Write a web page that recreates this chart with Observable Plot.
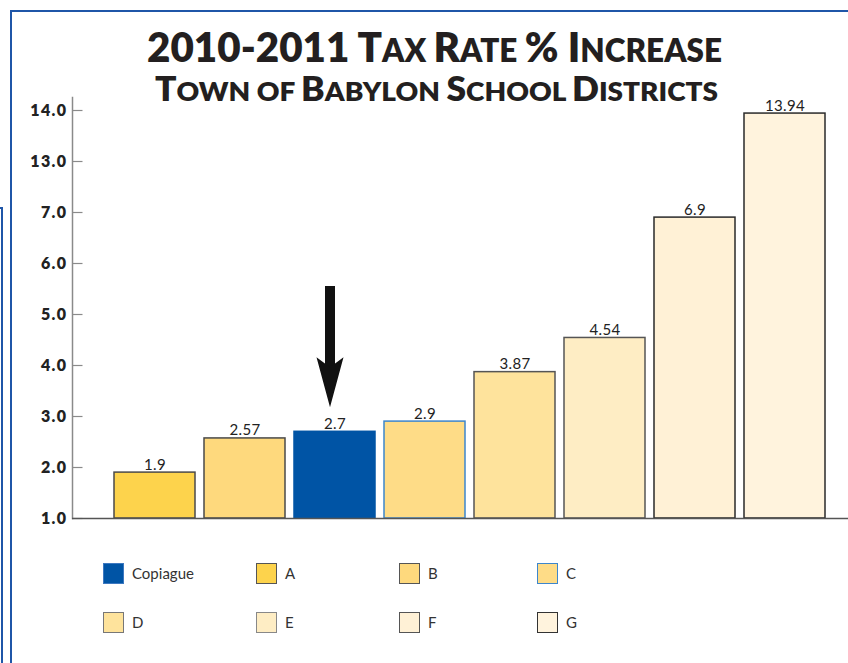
<!DOCTYPE html>
<html><head><meta charset="utf-8">
<script src="https://cdn.jsdelivr.net/npm/d3@7"></script>
<script src="https://cdn.jsdelivr.net/npm/@observablehq/plot@0.6"></script>
<style>
html,body{margin:0;padding:0;background:#fff;}
#page{position:relative;width:848px;height:663px;overflow:hidden;background:#fff;font-family:Lato,"Open Sans",sans-serif;}
.bl{position:absolute;background:#1f56a8;}
.title{position:absolute;white-space:nowrap;font-weight:800;color:#231f20;line-height:1;transform-origin:0 0;}
.sc{text-transform:uppercase;}
#chart{position:absolute;left:0;top:90px;}
.yax text{letter-spacing:1.4px;}
.vlab text{letter-spacing:0.3px;}
.leg{position:absolute;display:flex;align-items:center;font-size:15px;color:#333;height:22px;}
.sw{width:19px;height:19px;border:1.5px solid #555;margin-right:8px;}
</style></head>
<body><div id="page">
<div class="bl" style="left:10px;top:10px;width:838px;height:2px"></div>
<div class="bl" style="left:10px;top:10px;width:2px;height:653px"></div>
<div class="bl" style="left:1px;top:207px;width:2px;height:456px"></div>
<div class="bl" style="left:0px;top:207px;width:3px;height:2px"></div>
<div id="t1" class="title"></div>
<div id="t2" class="title"></div>
<div id="chart"></div>
<div id="legend"></div>
</div>
<script>
// ---- data ----
const titleText = "2010-2011 Tax Rate % Increase";
const subtitleText = "Town of Babylon School Districts";
const districts = ["A", "B", "Copiague", "C", "D", "E", "F", "G"];
const rates = [1.9, 2.57, 2.7, 2.9, 3.87, 4.54, 6.9, 13.94];
const rateLabels = ["1.9", "2.57", "2.7", "2.9", "3.87", "4.54", "6.9", "13.94"];
const fills = ["#fdd34c", "#fed97d", "#0054a5", "#fedc87", "#fee39c", "#feedc4", "#fff1d6", "#fff3dd"];
const outlines = ["#4a4a4a", "#4a4a4a", "#0054a5", "#3d86cc", "#555555", "#555555", "#2a2a2a", "#2a2a2a"];
const legendOrder = ["Copiague", "A", "B", "C", "D", "E", "F", "G"];
const legendOutlines = ["#3d78c0", "#555555", "#555555", "#3d86cc", "#777777", "#888888", "#555555", "#333333"];
const yTicks = [1, 2, 3, 4, 5, 6, 7, 13, 14];
const yBreaks = [1, 7, 13, 14];
const yBase = 1;
const arrowTarget = "Copiague";
const arrowTop = 5.55, arrowNeck = 3.8, arrowTip = 3.18;

// ---- title ----
function smallCaps(el, text, ratio) {
  el.innerHTML = "";
  let buf = "", small = null;
  const flush = () => {
    if (!buf) return;
    const s = document.createElement("span");
    s.textContent = buf;
    if (small) { s.className = "sc"; s.style.fontSize = ratio + "em"; }
    el.appendChild(s);
    buf = "";
  };
  for (const ch of text) {
    const isSmall = ch >= "a" && ch <= "z";
    if (buf && isSmall !== small && ch !== " ") flush();
    if (ch !== " ") small = isSmall;
    buf += ch;
  }
  flush();
}
const t1 = document.getElementById("t1"), t2 = document.getElementById("t2");
smallCaps(t1, titleText, 0.78);
smallCaps(t2, subtitleText, 0.79);
function place(el, size, baseline, left, right) {
  el.style.fontSize = size + "px";
  el.style.top = (baseline - 0.887 * size) + "px";
  el.style.left = left + "px";
  el.style.transform = "none";
  const w = el.getBoundingClientRect().width;
  el.style.transform = `scaleX(${(right - left) / w})`;
}
function fit() {
  place(t1, 42, 62, 147, 722);
  place(t2, 33.5, 102, 155, 718);
}
fit();
if (document.fonts) document.fonts.ready.then(fit);

// ---- chart ----
const rows = districts.map((name, i) => ({name, rate: rates[i], label: rateLabels[i], fill: fills[i], outline: outlines[i]}));
const H = 440, mTop = 7, mBottom = 12;
const step = (H - mTop - mBottom - 13) / (yTicks.length - 1);
const yRange = yBreaks.map(v => (H - mBottom) - yTicks.indexOf(v) * step);
const tickSymbol = {draw(ctx) { ctx.moveTo(0, 0); ctx.lineTo(10, 0); }};
const headSymbol = {draw(ctx) { ctx.moveTo(0, 0); ctx.lineTo(-13.5, -50); ctx.lineTo(0, -40); ctx.lineTo(13.5, -50); ctx.closePath(); }};

const chart = Plot.plot({
  width: 848, height: H,
  marginLeft: 72, marginRight: 0, marginTop: mTop, marginBottom: mBottom,
  style: {fontFamily: "Lato, 'Open Sans', sans-serif", background: "transparent", overflow: "visible"},
  x: {type: "band", domain: districts, range: [109.5, 829.5], paddingInner: 0.1, paddingOuter: 0.05, axis: null},
  y: {type: "linear", domain: yBreaks, range: yRange},
  color: {type: "identity"},
  marks: [
    Plot.barY(rows, {x: "name", y1: yBase, y2: "rate", fill: "fill", stroke: "outline", strokeWidth: 1.5}),
    Plot.text(rows, {x: "name", y: "rate", text: "label", lineAnchor: "bottom", dy: -3, fontSize: 15, fill: "#222", className: "vlab"}),
    Plot.frame({anchor: "left", stroke: "#8a8a8a", strokeWidth: 1.5}),
    Plot.dot(yTicks, {y: d => d, frameAnchor: "left", symbol: tickSymbol, fill: "none", stroke: "#8a8a8a", strokeWidth: 1.2}),
    Plot.axisY({ticks: yTicks, tickFormat: d3.format(".1f"), tickSize: 0, tickPadding: 5, fontSize: 16, fontWeight: 800, fill: "#222", label: null, className: "yax"}),
    Plot.ruleY([yBase], {stroke: "#555", strokeWidth: 1.5}),
    Plot.ruleX([arrowTarget], {x: d => d, y1: arrowTop, y2: arrowNeck, stroke: "#111", strokeWidth: 10, dx: -5}),
    Plot.dot([arrowTarget], {x: d => d, y: arrowTip, symbol: headSymbol, fill: "#111", stroke: "none", dx: -5})
  ]
});
document.getElementById("chart").appendChild(chart);

// ---- legend ----
const legCols = [103, 256, 399, 537], legRows = [562, 611];
const legend = document.getElementById("legend");
legendOrder.forEach((name, i) => {
  const idx = districts.indexOf(name);
  const item = document.createElement("div");
  item.className = "leg";
  item.style.left = legCols[i % 4] + "px";
  item.style.top = legRows[Math.floor(i / 4)] + "px";
  const sw = document.createElement("div");
  sw.className = "sw";
  sw.style.background = fills[idx];
  sw.style.borderColor = legendOutlines[i];
  const tx = document.createElement("span");
  tx.textContent = name;
  item.appendChild(sw); item.appendChild(tx);
  legend.appendChild(item);
});
</script>
</body></html>
